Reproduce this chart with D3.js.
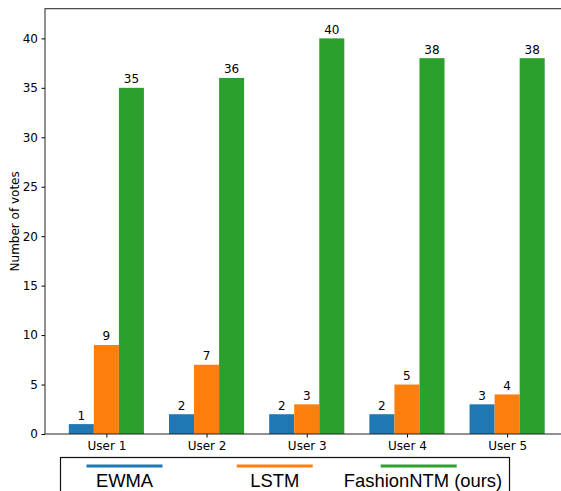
<!DOCTYPE html>
<html>
<head>
<meta charset="utf-8">
<script src="https://cdn.jsdelivr.net/npm/d3@7"></script>
<style>
  body { margin: 0; background: #fff; }
  svg { display: block; }
  .tick text { font-family: "DejaVu Sans", sans-serif; font-size: 12px; fill: #000; }
</style>
</head>
<body>
<div id="chart"></div>
<script>
// chart data
var users = ["User 1", "User 2", "User 3", "User 4", "User 5"];
var seriesNames = ["EWMA", "LSTM", "FashionNTM (ours)"];
var seriesColors = ["#1f77b4", "#ff7f0e", "#2ca02c"];
var ewma = [1, 2, 2, 2, 3];
var lstm = [9, 7, 3, 5, 4];
var fashionNTM = [35, 36, 40, 38, 38];
var yTicks = [0, 5, 10, 15, 20, 25, 30, 35, 40];

var series = [ewma, lstm, fashionNTM];

var width = 561, height = 491;
var margin = { left: 45, top: 8.7, bottom: 57 };
var plotBottom = height - margin.bottom;
var barW = 0.25;

var svg = d3.select("#chart").append("svg")
  .attr("width", width)
  .attr("height", height);

// x is in matplotlib-like units: group i sits at i, bars offset by +-0.25
var x = d3.scaleLinear()
  .domain([-0.6125, 4.6125])
  .range([margin.left, margin.left + 523.5]);

var y = d3.scaleLinear()
  .domain([0, 43])
  .range([plotBottom, margin.top]);

// bars
series.forEach(function(vals, s) {
  var g = svg.append("g");
  g.selectAll("rect")
    .data(vals)
    .enter().append("rect")
    .attr("x", function(d, i) { return x(i + (s - 1) * barW - barW / 2); })
    .attr("width", function(d, i) { return x(barW) - x(0); })
    .attr("y", function(d) { return y(d); })
    .attr("height", function(d) { return y(0) - y(d); })
    .style("fill", seriesColors[s]);

  g.selectAll("text")
    .data(vals)
    .enter().append("text")
    .attr("x", function(d, i) { return x(i + (s - 1) * barW); })
    .attr("y", function(d) { return y(d) - 4.5; })
    .attr("text-anchor", "middle")
    .style("font-family", "DejaVu Sans, sans-serif")
    .style("font-size", "12px")
    .text(function(d) { return d; });
});

// axes
var yAxis = d3.axisLeft(y).tickValues(yTicks).tickSize(3.5).tickPadding(3.5);
svg.append("g")
  .attr("transform", "translate(" + margin.left + ",0)")
  .call(yAxis)
  .call(function(g) { g.select(".domain").remove(); });

var xAxis = d3.axisBottom(x)
  .tickValues(d3.range(users.length))
  .tickFormat(function(d) { return users[d]; })
  .tickSize(3.5).tickPadding(3.5);
svg.append("g")
  .attr("transform", "translate(0," + plotBottom + ")")
  .call(xAxis)
  .call(function(g) { g.select(".domain").remove(); });

// spines
var spineColor = "#222";
svg.append("rect")
  .attr("x", x.range()[0])
  .attr("y", margin.top)
  .attr("width", x.range()[1] - x.range()[0])
  .attr("height", plotBottom - margin.top)
  .style("fill", "none")
  .style("stroke", spineColor)
  .style("stroke-width", 1);

// y label
svg.append("text")
  .attr("transform", "translate(19," + ((margin.top + plotBottom) / 2) + ") rotate(-90)")
  .attr("text-anchor", "middle")
  .style("font-family", "DejaVu Sans, sans-serif")
  .style("font-size", "12px")
  .text("Number of votes");

// legend
var legend = svg.append("g");
legend.append("rect")
  .attr("x", 60.5)
  .attr("y", 457.5)
  .attr("width", 449)
  .attr("height", 60)
  .style("fill", "#fff")
  .style("stroke", "#111")
  .style("stroke-width", 1.2);

var legendCenters = [124.5, 274.7, 418.7];
var legendText = [124.5, 274.7, 423];
seriesNames.forEach(function(name, s) {
  legend.append("line")
    .attr("x1", legendCenters[s] - 38)
    .attr("x2", legendCenters[s] + 38)
    .attr("y1", 466)
    .attr("y2", 466)
    .style("stroke", seriesColors[s])
    .style("stroke-width", 3.2);
  legend.append("text")
    .attr("x", legendText[s])
    .attr("y", 486.5)
    .attr("text-anchor", "middle")
    .style("font-family", "Liberation Sans, Arial, sans-serif")
    .style("font-size", "18.4px")
    .text(name);
});
</script>
</body>
</html>
